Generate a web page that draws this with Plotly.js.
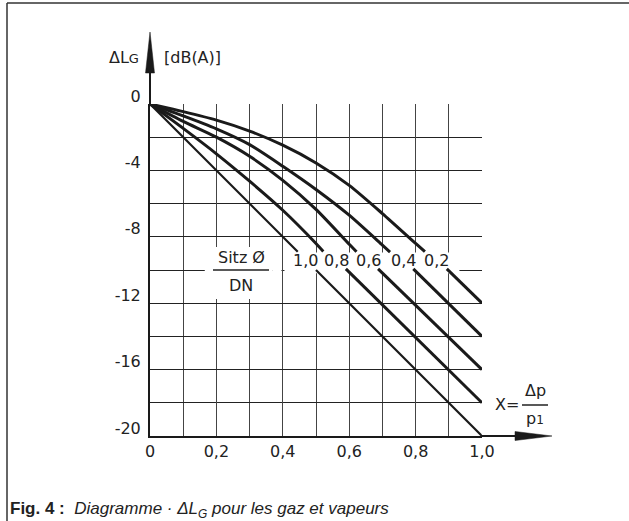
<!DOCTYPE html>
<html><head><meta charset="utf-8">
<script src="https://cdn.plot.ly/plotly-3.0.1.min.js"></script>
<style>html,body{margin:0;padding:0;background:#fff}</style>
</head><body><div id="chart" style="width:629px;height:521px"></div>
<script>
// ---- data ----
const sitzRatios = ['1,0', '0,8', '0,6', '0,4', '0,2'];

const c10X = [0, 0.445, null, 0.5, 1.0];
const c10Y = [0, -8.9, null, -10.0, -20];

const c08X = [0, 0.1, 0.2, 0.3, 0.4, 0.5, 0.522, null, 0.59, 1.0];
const c08Y = [0, -1.47, -3.0, -4.65, -6.4, -8.4, -8.88, null, -9.93, -18];

const c06X = [0, 0.1, 0.2, 0.3, 0.4, 0.5, 0.6, 0.622, null, 0.687, 1.0];
const c06Y = [0, -1.05, -2.0, -3.15, -4.6, -6.35, -8.45, -8.9, null, -9.93, -16];

const c04X = [0, 0.1, 0.2, 0.3, 0.4, 0.5, 0.6, 0.7, 0.723, null, 0.793, 1.0];
const c04Y = [0, -0.72, -1.5, -2.45, -3.75, -5.15, -6.7, -8.5, -8.92, null, -9.93, -14];

const c02X = [0, 0.1, 0.2, 0.3, 0.4, 0.5, 0.6, 0.7, 0.8, 0.828, null, 0.894, 1.0];
const c02Y = [0, -0.46, -0.97, -1.63, -2.48, -3.55, -4.9, -6.6, -8.4, -8.9, null, -9.93, -12];

const xTickVals = [0, 0.2, 0.4, 0.6, 0.8, 1.0];
const xTickText = ['0', '0,2', '0,4', '0,6', '0,8', '1,0'];
const yTickVals = [-20, -16, -12, -8, -4, 0];
const yTickText = ['-20', '-16', '-12', '-8', '-4', '0'];

// ---- layout helpers (pixel -> paper) ----
const L = 150, R = 482, T = 104, B = 436, W = R - L, H = B - T;
const P = px => (px - L) / W;
const Q = py => (B - py) / H;

const FONT = 'DejaVu Sans';
const INK = '#1a1a1a';

const curves = [
  {x: c10X, y: c10Y, w: 2.2},
  {x: c08X, y: c08Y, w: 3},
  {x: c06X, y: c06Y, w: 3},
  {x: c04X, y: c04Y, w: 3},
  {x: c02X, y: c02Y, w: 3}
];
const traces = curves.map((c, i) => ({
  x: c.x, y: c.y, name: sitzRatios[i], type: 'scatter', mode: 'lines',
  connectgaps: false, hoverinfo: 'skip',
  line: {color: INK, width: c.w, shape: 'spline', smoothing: 0.7}
}));

const labelX = [0.467, 0.562, 0.658, 0.763, 0.863];
const annotations = [];
sitzRatios.forEach((t, i) => annotations.push({
  xref: 'x', yref: 'y', x: labelX[i], y: -9.43, text: t, showarrow: false,
  font: {family: FONT, size: 16, color: '#222'}, xanchor: 'center', yanchor: 'middle'
}));
function txt(px, py, text, xanchor, size, extra) {
  return Object.assign({xref: 'paper', yref: 'paper', x: P(px), y: Q(py), text: text,
    showarrow: false, xanchor: xanchor, yanchor: 'middle',
    font: {family: FONT, size: size, color: '#222'}}, extra || {});
}
annotations.push(txt(241, 257, 'Sitz Ø', 'center', 16));
annotations.push(txt(241, 285, 'DN', 'center', 16));
annotations.push(txt(141, 57, 'ΔL<span style="font-size:13px">G</span>', 'right', 16));
annotations.push(txt(162, 57, '[dB(A)]', 'left', 16));
annotations.push(txt(507, 404, 'X=', 'center', 16));
annotations.push(txt(535, 390, 'Δp', 'center', 16));
annotations.push(txt(535, 418, 'p<span style="font-size:12px">1</span>', 'center', 16));
annotations.push(txt(8, 510,
  '<b>Fig. 4 :</b>  <i>Diagramme · ΔL<sub>G</sub> pour les gaz et vapeurs</i>', 'left', 17,
  {font: {family: 'Liberation Sans', size: 17, color: '#222'}}));

function pline(x0, y0, x1, y1, w, col) {
  return {type: 'line', xref: 'paper', yref: 'paper', x0: P(x0), y0: Q(y0), x1: P(x1), y1: Q(y1),
    line: {color: col || INK, width: w}};
}
function mask(x0, x1, y0, y1) {
  return {type: 'rect', xref: 'x', yref: 'y', x0: x0, x1: x1, y0: y0, y1: y1, layer: 'between',
    fillcolor: '#ffffff', line: {width: 0}};
}
const shapes = [
  // frame
  pline(7, 3, 629, 3, 1.5, '#333'),
  pline(7, 3, 7, 521, 1.5, '#333'),
  // axis extensions
  pline(150, 104, 150, 72, 2),
  pline(482, 436, 516, 436, 2),
  {type: 'path', xref: 'paper', yref: 'paper',
   path: `M ${P(145.5)},${Q(73)} L ${P(154.5)},${Q(73)} L ${P(150)},${Q(32)} Z`,
   fillcolor: INK, line: {color: INK, width: 0.5}},
  {type: 'path', xref: 'paper', yref: 'paper',
   path: `M ${P(515)},${Q(431.5)} L ${P(515)},${Q(440.5)} L ${P(552)},${Q(436)} Z`,
   fillcolor: INK, line: {color: INK, width: 0.5}},
  // fraction bars
  pline(213, 270, 269, 270, 1.5, '#222'),
  pline(522, 405, 548, 405, 1.5, '#222'),
  // grid masks behind the labels
  mask(0.165, 0.37, -8.62, -11.75),
  mask(0.37, 0.396, -9.8, -10.2),
  mask(0.405, 0.932, -8.95, -10.2)
];

const layout = {
  width: 629, height: 521,
  margin: {l: L, r: 629 - R, t: T, b: 521 - B, pad: 0},
  paper_bgcolor: '#ffffff', plot_bgcolor: '#ffffff',
  showlegend: false,
  xaxis: {range: [0, 1], tickmode: 'array', tickvals: xTickVals, ticktext: xTickText,
    showgrid: true, gridcolor: '#444', gridwidth: 1, zeroline: false,
    minor: {dtick: 0.1, tick0: 0, showgrid: true, gridcolor: '#444', gridwidth: 1, ticks: ''},
    showline: true, linecolor: INK, linewidth: 2, ticks: '', ticklabelstandoff: 0,
    tickfont: {family: FONT, size: 16, color: '#222'}, fixedrange: true},
  yaxis: {range: [-20, 0], tickmode: 'array', tickvals: yTickVals, ticktext: yTickText,
    showgrid: true, gridcolor: '#222', gridwidth: 1, zeroline: false,
    minor: {dtick: 2, tick0: 0, showgrid: true, gridcolor: '#222', gridwidth: 1, ticks: ''},
    showline: true, linecolor: INK, linewidth: 2, ticks: '', ticklabelstandoff: 4,
    ticklabelshift: -8,
    tickfont: {family: FONT, size: 16, color: '#222'}, fixedrange: true},
  shapes: shapes,
  annotations: annotations
};

Plotly.newPlot('chart', traces, layout, {displayModeBar: false, staticPlot: true});
</script>
</body></html>
